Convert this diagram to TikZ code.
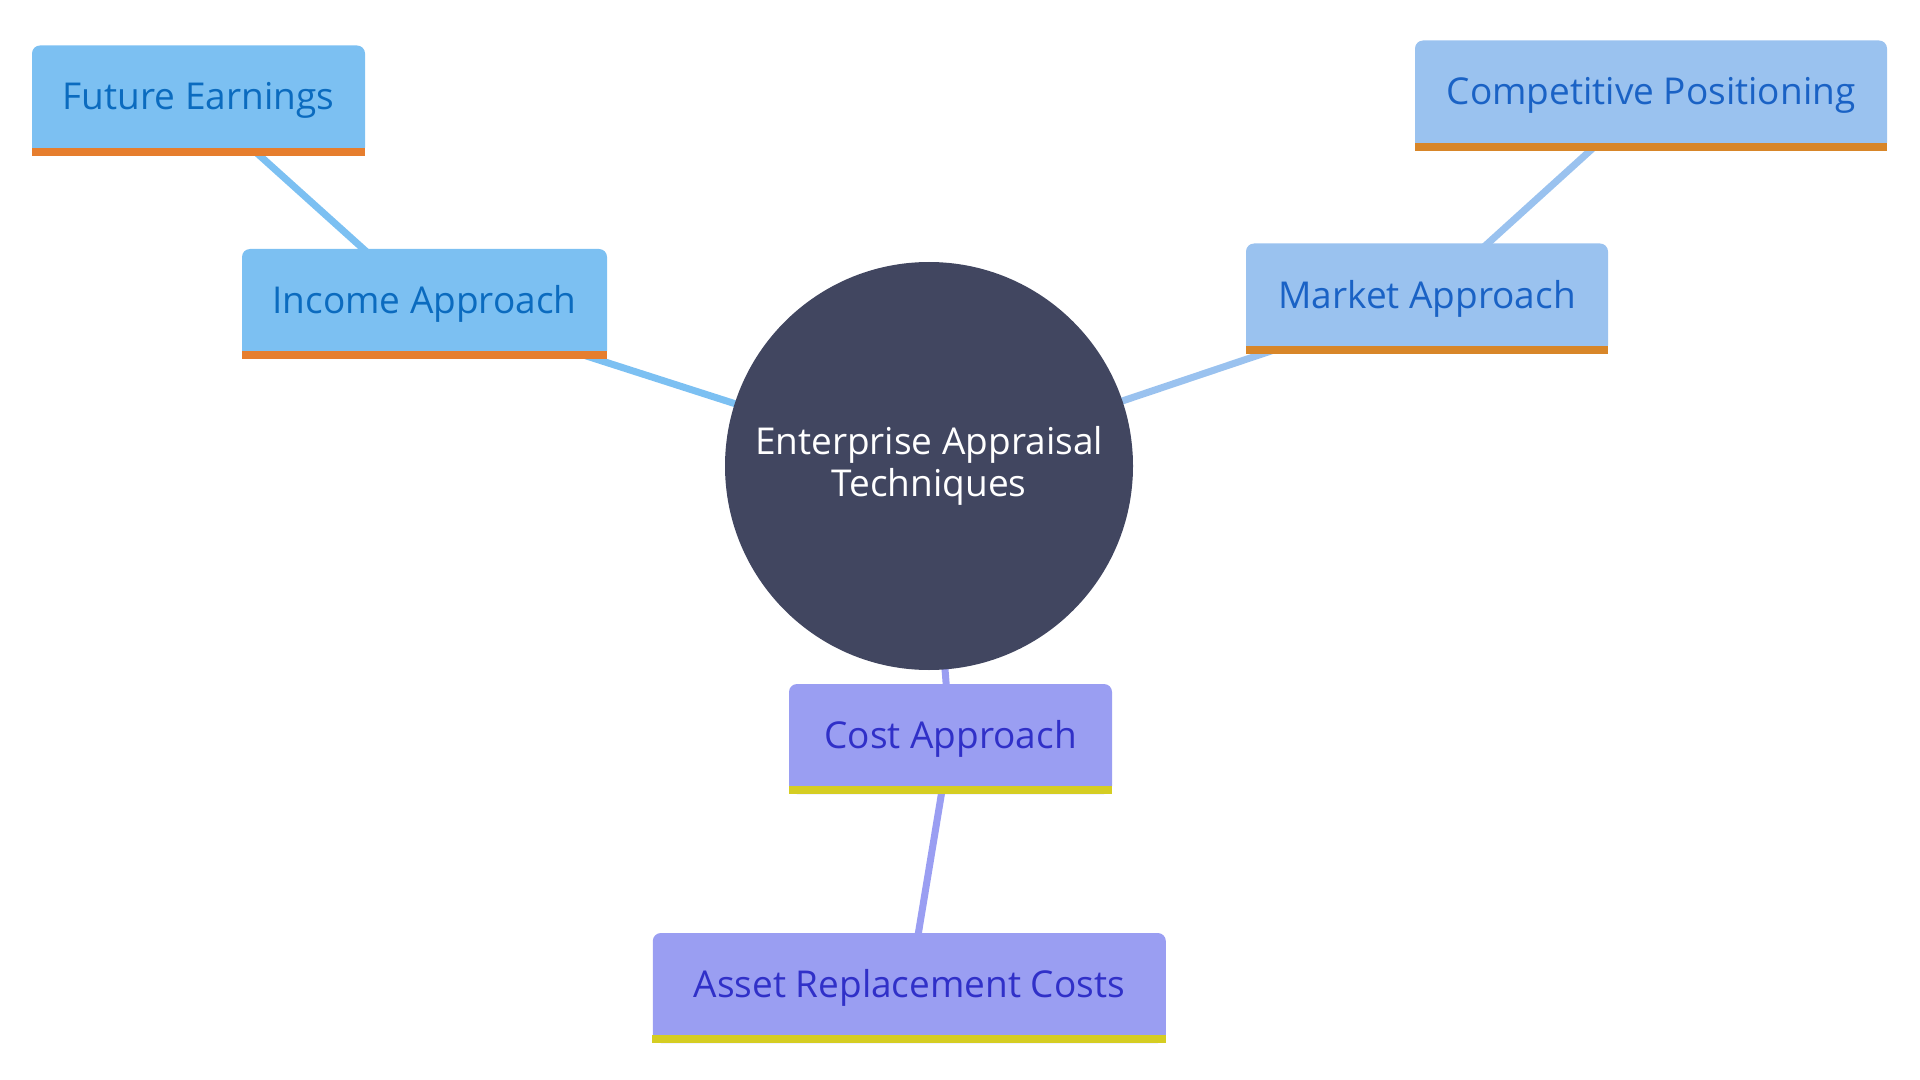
\documentclass[tikz,border=0pt]{standalone}
\usepackage{fontspec}
\setmainfont{Open Sans}
\usetikzlibrary{backgrounds}

\definecolor{incfill}{HTML}{7CC0F2}
\definecolor{inctext}{HTML}{0B6BBF}
\definecolor{incbar}{HTML}{E67E2E}
\definecolor{mktfill}{HTML}{9AC2EF}
\definecolor{mkttext}{HTML}{1A62C5}
\definecolor{mktbar}{HTML}{D88629}
\definecolor{costfill}{HTML}{9A9EF2}
\definecolor{costtext}{HTML}{3030C8}
\definecolor{costbar}{HTML}{D5CD22}
\definecolor{rootfill}{HTML}{414660}

\tikzset{
  topic/.style={rounded corners=4pt, minimum height=55pt, inner sep=0pt,
    font=\fontsize{18.5}{21}\selectfont},
  incbox/.style={topic, fill=incfill, text=inctext},
  mktbox/.style={topic, fill=mktfill, text=mkttext},
  costbox/.style={topic, fill=costfill, text=costtext},
  link/.style={line width=3.5pt}
}

\begin{document}
\begin{tikzpicture}[x=0.5pt, y=-0.5pt]
	\useasboundingbox (0,0) rectangle (1920,1080);

	\node[circle, fill=rootfill, text=white, minimum size=204pt, inner sep=0pt, align=center,
	      font=\fontsize{18.5}{21.3}\selectfont] (root) at (929,466) {Enterprise Appraisal\\Techniques};

	\node[incbox, minimum width=182.5pt] (income) at (424.5,304) {Income Approach};
	\node[incbox, minimum width=166.5pt] (future) at (198.5,100.5) {Future Earnings};
	\node[mktbox, minimum width=181pt] (market) at (1427,298.5) {Market Approach};
	\node[mktbox, minimum width=236pt] (compet) at (1651,95.5) {Competitive Positioning};
	\node[costbox, minimum width=161.5pt] (cost) at (950.5,739) {Cost Approach};
	\node[costbox, minimum width=256.5pt] (asset) at (909.3,988) {Asset Replacement Costs};

	% coloured strips under the boxes
	\foreach \n/\c in {income/incbar, future/incbar, market/mktbar, compet/mktbar, cost/costbar, asset/costbar}
		\fill[\c] (\n.south west) rectangle ([yshift=4pt]\n.south east);

	\begin{scope}[on background layer]
		\draw[link, incfill] (root.center) -- (income.center);
		\draw[link, incfill] (income.center) -- (future.center);
		\draw[link, mktfill] (root.center) -- (market.center);
		\draw[link, mktfill] (market.center) -- (compet.center);
		\draw[link, costfill] (root.center) -- (cost.center);
		\draw[link, costfill] (cost.center) -- (asset.center);
	\end{scope}
\end{tikzpicture}
\end{document}
